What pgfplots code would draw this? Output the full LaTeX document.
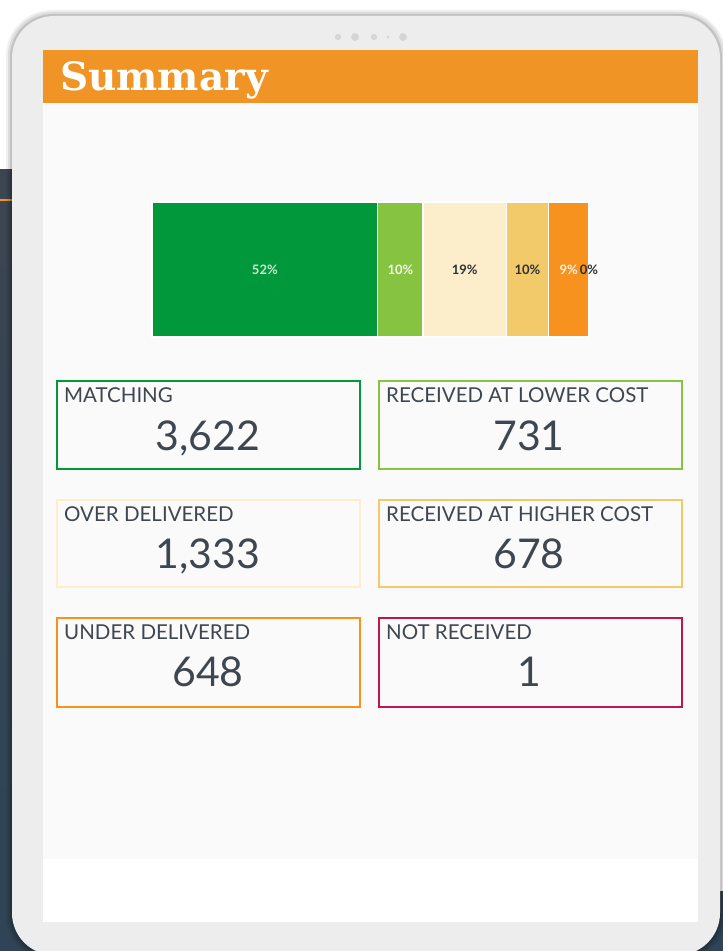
\documentclass[border=0pt]{standalone}
\usepackage{pgfplots}
\pgfplotsset{compat=1.18}
\usepackage{fontspec}
\setmainfont{Lato}
\newfontfamily\slab{DejaVu Serif}
\definecolor{frame}{HTML}{EDEDED}
\definecolor{hdr}{HTML}{F19426}
\definecolor{content}{HTML}{FAFAFA}
\definecolor{dark}{HTML}{2F4456}
\definecolor{darktop}{HTML}{3B4651}
\definecolor{cMatch}{HTML}{00983A}
\definecolor{cLower}{HTML}{86C340}
\definecolor{cOver}{HTML}{FCEDCB}
\definecolor{cHigher}{HTML}{F3CA69}
\definecolor{cUnder}{HTML}{F7921E}
\definecolor{cNot}{HTML}{C0154F}
\definecolor{txt}{HTML}{3E4650}
\definecolor{dotc}{HTML}{D6D6D6}
\newcommand{\barfont}{\bfseries\fontsize{13}{15}\selectfont}
\newcommand{\labfont}{\fontsize{20.5}{24}\selectfont}
\newcommand{\numfont}{\fontsize{41}{46}\selectfont}
\begin{document}
\begin{tikzpicture}[x=1pt,y=1pt]
\useasboundingbox (0,0) rectangle (723,951);
% background
\fill[white] (0,0) rectangle (723,951);
\shade[top color=darktop,bottom color=dark] (0,0) rectangle (60,781);
\fill[dark] (660,0) rectangle (723,60);
\draw[hdr,line width=1.5pt] (0,751) -- (20,751);
% shadow
\fill[black,opacity=0.06,rounded corners=46pt] (6,-10) rectangle (726,941);
\fill[black,opacity=0.08,rounded corners=44pt] (8,-8) rectangle (724,939);
\fill[black,opacity=0.12,rounded corners=43pt] (10,-6) rectangle (722,937);
% tablet frame
\fill[frame,rounded corners=42pt] (12,-4) rectangle (720,935);
% camera dots
\fill[dotc] (338,914) circle (3.2);
\fill[dotc] (355,914) circle (4);
\fill[dotc] (374,914) circle (3.2);
\fill[dotc] (388,914) circle (1.5);
\fill[dotc] (403,914) circle (4);
% screen
\fill[white] (43,29) rectangle (698,92);
\fill[content] (43,92) rectangle (698,848);
\fill[hdr] (43,848) rectangle (698,901);
\node[anchor=base west,inner sep=0pt,text=white,font=\slab\bfseries\fontsize{39}{44}\selectfont] at (60,860) {Summary};
% stacked bar
\begin{axis}[at={(152pt,614pt)},anchor=south west,
  width=437pt,height=135pt,scale only axis,hide axis,
  xbar stacked,bar width=135pt,
  xmin=0,xmax=7013,ymin=-0.5,ymax=0.5,clip=false]
\addplot[fill=cMatch,draw=white,line width=1.6pt] coordinates {(3622,0)};
\addplot[fill=cLower,draw=white,line width=1.6pt] coordinates {(731,0)};
\addplot[fill=cOver,draw=white,line width=1.6pt] coordinates {(1333,0)};
\addplot[fill=cHigher,draw=white,line width=1.6pt] coordinates {(678,0)};
\addplot[fill=cUnder,draw=white,line width=1.6pt] coordinates {(648,0)};
\addplot[fill=cNot,draw=none] coordinates {(1,0)};
\coordinate (l1) at (axis cs:1811,0);
\coordinate (l2) at (axis cs:3987.5,0);
\coordinate (l3) at (axis cs:5019.5,0);
\coordinate (l4) at (axis cs:6025,0);
\coordinate (l5) at (axis cs:6688,0);
\coordinate (l6) at (axis cs:7013,0);
\end{axis}
\node[text=white!80!cMatch,font=\barfont] at (l1) {52\%};
\node[text=white!90!cLower,font=\barfont] at (l2) {10\%};
\node[text=txt!70!black,font=\barfont] at (l3) {19\%};
\node[text=txt!70!black,font=\barfont] at (l4) {10\%};
\node[text=white!88!cUnder,font=\barfont] at (l5) {9\%};
\node[text=txt!70!black,font=\barfont] at (l6) {0\%};
% boxes
\draw[cMatch,line width=2.4pt] (57,482) rectangle (360,570);
\draw[cLower,line width=2.4pt] (379,482) rectangle (682,570);
\draw[cOver,line width=2.4pt] (57,364) rectangle (360,451);
\draw[cHigher,line width=2.4pt] (379,364) rectangle (682,451);
\draw[cUnder,line width=2.4pt] (57,244) rectangle (360,333);
\draw[cNot,line width=2.4pt] (379,244) rectangle (682,333);
\node[anchor=base west,inner sep=0pt,text=txt,font=\labfont] at (64,548) {MATCHING};
\node[anchor=base west,inner sep=0pt,text=txt,font=\labfont] at (386,548) {RECEIVED AT LOWER COST};
\node[anchor=base west,inner sep=0pt,text=txt,font=\labfont] at (64,429) {OVER DELIVERED};
\node[anchor=base west,inner sep=0pt,text=txt,font=\labfont] at (386,429) {RECEIVED AT HIGHER COST};
\node[anchor=base west,inner sep=0pt,text=txt,font=\labfont] at (64,311) {UNDER DELIVERED};
\node[anchor=base west,inner sep=0pt,text=txt,font=\labfont] at (386,311) {NOT RECEIVED};
\node[anchor=base,inner sep=0pt,text=txt,font=\numfont] at (208,500) {3,622};
\node[anchor=base,inner sep=0pt,text=txt,font=\numfont] at (529,500) {731};
\node[anchor=base,inner sep=0pt,text=txt,font=\numfont] at (208,382) {1,333};
\node[anchor=base,inner sep=0pt,text=txt,font=\numfont] at (529,382) {678};
\node[anchor=base,inner sep=0pt,text=txt,font=\numfont] at (208,264) {648};
\node[anchor=base,inner sep=0pt,text=txt,font=\numfont] at (529,264) {1};
\end{tikzpicture}
\end{document}
